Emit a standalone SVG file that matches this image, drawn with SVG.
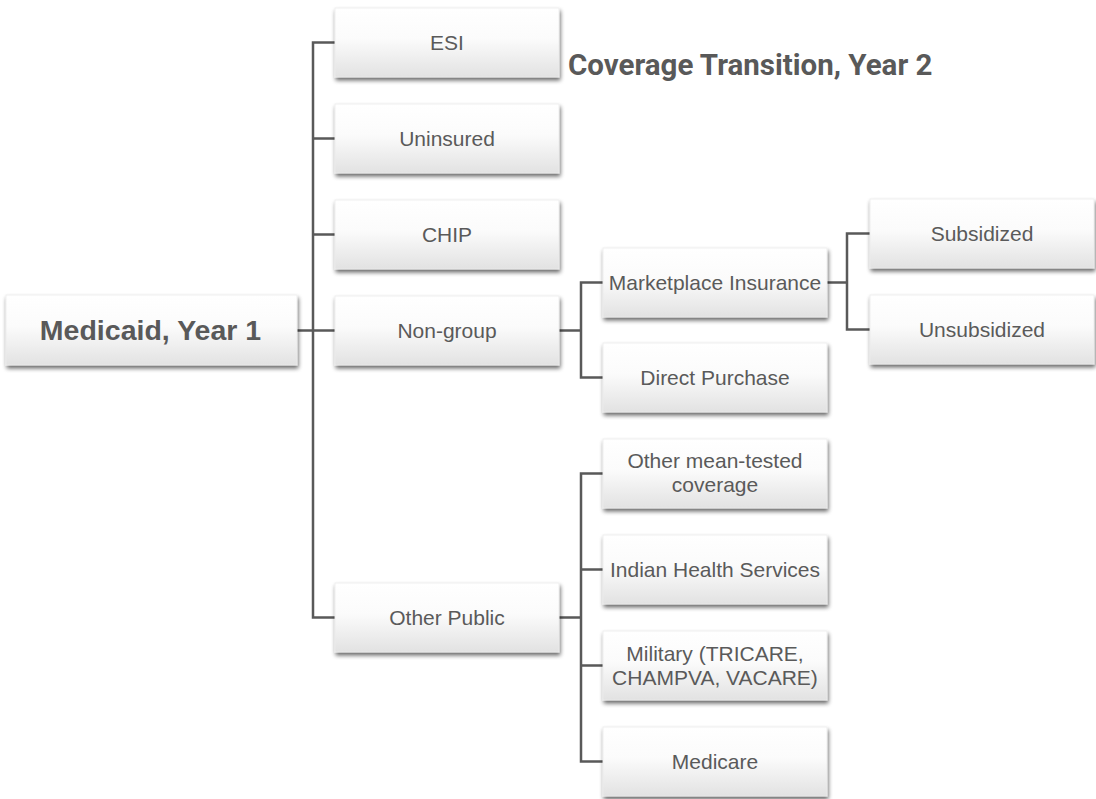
<svg xmlns="http://www.w3.org/2000/svg" width="1096" height="799" viewBox="0 0 1096 799">
  <defs>
    <linearGradient id="boxFill" x1="0" y1="0" x2="0" y2="1">
      <stop offset="0" stop-color="#ffffff"/>
      <stop offset="0.45" stop-color="#fbfbfb"/>
      <stop offset="1" stop-color="#e2e2e2"/>
    </linearGradient>
    <filter id="shadow" x="-10%" y="-20%" width="125%" height="150%">
      <feGaussianBlur in="SourceAlpha" stdDeviation="2"/>
      <feOffset dx="1" dy="3" result="blur"/>
      <feComponentTransfer><feFuncA type="linear" slope="0.6"/></feComponentTransfer>
      <feMerge><feMergeNode/><feMergeNode in="SourceGraphic"/></feMerge>
    </filter>
  </defs>
  <style>
    .box { fill: url(#boxFill); stroke: #ececec; stroke-width: 0.8; filter: url(#shadow); }
    .lbl { font-family: "Liberation Sans", Arial, sans-serif; font-size: 21px; fill: #5a5a5a; text-anchor: middle; }
    .root { font-family: "Liberation Sans", Arial, sans-serif; font-size: 28.5px; font-weight: bold; fill: #595959; text-anchor: middle; }
    .title { font-family: Roboto, "Liberation Sans", sans-serif; font-size: 29.5px; font-weight: bold; fill: #595959; }
    .conn { fill: none; stroke: #595959; stroke-width: 2.5; }
  </style>
  <rect width="1096" height="799" fill="#ffffff"/>

  <text class="title" x="568" y="75">Coverage Transition, Year 2</text>

  <g id="connectors">
    <path class="conn" d="M297,330.5 H313 M335,42.5 H313 V617.5 H335 M313,138.5 H335 M313,234.5 H335 M313,330.5 H335"/>
    <path class="conn" d="M559,330.5 H581 M603,282.5 H581 V377.5 H603"/>
    <path class="conn" d="M827,282.5 H847 M870,233.5 H847 V329.5 H870"/>
    <path class="conn" d="M559,617.5 H581 M603,473.5 H581 V761.5 H603 M581,569.5 H603 M581,665.5 H603"/>
  </g>

  <g id="medicaid-year1">
    <rect class="box" x="6" y="295" width="291" height="70"/>
    <text class="root" x="150.5" y="340">Medicaid, Year 1</text>
  </g>
  <g id="esi">
    <rect class="box" x="335" y="8" width="224" height="69"/>
    <text class="lbl" x="447" y="50">ESI</text>
  </g>
  <g id="uninsured">
    <rect class="box" x="335" y="104" width="224" height="69"/>
    <text class="lbl" x="447" y="146">Uninsured</text>
  </g>
  <g id="chip">
    <rect class="box" x="335" y="200" width="224" height="69"/>
    <text class="lbl" x="447" y="242">CHIP</text>
  </g>
  <g id="non-group">
    <rect class="box" x="335" y="296" width="224" height="69"/>
    <text class="lbl" x="447" y="338">Non-group</text>
  </g>
  <g id="other-public">
    <rect class="box" x="335" y="583" width="224" height="69"/>
    <text class="lbl" x="447" y="625">Other Public</text>
  </g>
  <g id="marketplace">
    <rect class="box" x="603" y="248" width="224" height="69"/>
    <text class="lbl" x="715" y="290">Marketplace Insurance</text>
  </g>
  <g id="direct-purchase">
    <rect class="box" x="603" y="343" width="224" height="69"/>
    <text class="lbl" x="715" y="385">Direct Purchase</text>
  </g>
  <g id="subsidized">
    <rect class="box" x="870" y="199" width="224" height="69"/>
    <text class="lbl" x="982" y="241">Subsidized</text>
  </g>
  <g id="unsubsidized">
    <rect class="box" x="870" y="295" width="224" height="69"/>
    <text class="lbl" x="982" y="337">Unsubsidized</text>
  </g>
  <g id="other-means-tested">
    <rect class="box" x="603" y="439" width="224" height="69"/>
    <text class="lbl" x="715" y="468">Other mean-tested</text>
    <text class="lbl" x="715" y="492">coverage</text>
  </g>
  <g id="indian-health">
    <rect class="box" x="603" y="535" width="224" height="69"/>
    <text class="lbl" x="715" y="577">Indian Health Services</text>
  </g>
  <g id="military">
    <rect class="box" x="603" y="631" width="224" height="69"/>
    <text class="lbl" x="715" y="661">Military (TRICARE,</text>
    <text class="lbl" x="715" y="685">CHAMPVA, VACARE)</text>
  </g>
  <g id="medicare">
    <rect class="box" x="603" y="727" width="224" height="69"/>
    <text class="lbl" x="715" y="769">Medicare</text>
  </g>
</svg>
